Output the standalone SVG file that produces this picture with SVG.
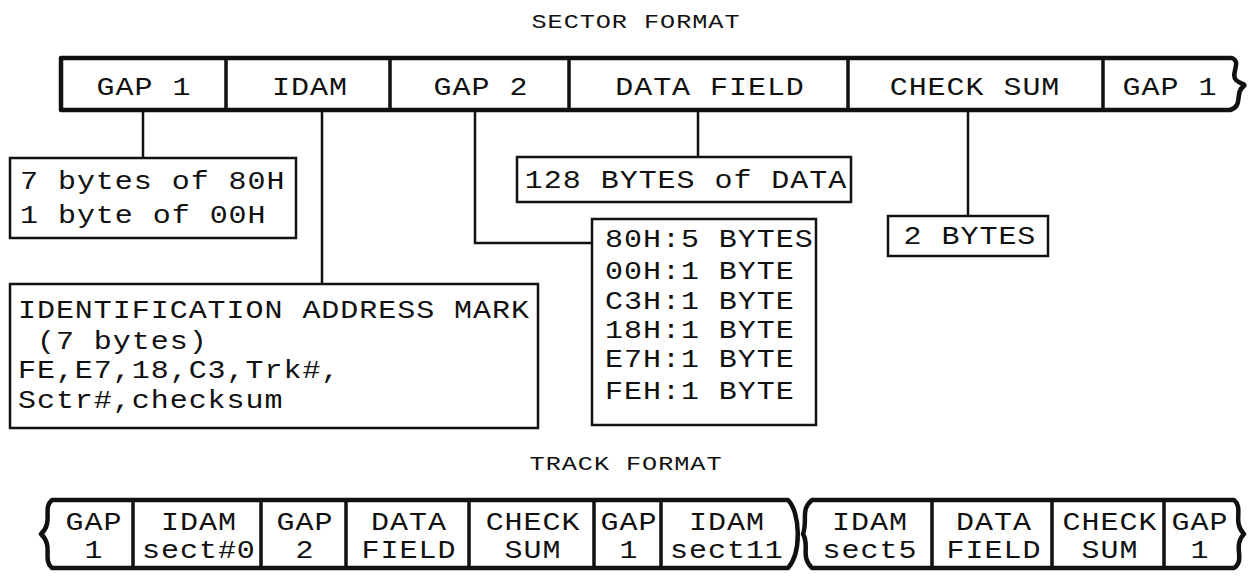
<svg xmlns="http://www.w3.org/2000/svg" width="1256" height="581" viewBox="0 0 1256 581">
<style>
text{font-family:"Liberation Mono","DejaVu Sans Mono",monospace;fill:#111}
.t{font-size:25px;letter-spacing:0.8px}
.h{font-size:21px;letter-spacing:0.8px}
.m{text-anchor:middle}
.box{fill:#fff;stroke:#111;stroke-width:2.5}
.out{fill:none;stroke:#111;stroke-width:4.5;stroke-linejoin:round}
.div{stroke:#111;stroke-width:3.5}
.con{fill:none;stroke:#111;stroke-width:2.5}
</style>
<rect width="1256" height="581" fill="#fff"/>
<text class="h m" transform="scale(1.2,1)" x="530" y="28">SECTOR FORMAT</text>
<text class="h m" transform="scale(1.2,1)" x="521.7" y="470">TRACK FORMAT</text>

<g id="connectors">
<path class="con" d="M143,110 V158"/>
<path class="con" d="M322,110 V284"/>
<path class="con" d="M475,110 V243 H592"/>
<path class="con" d="M698,110 V157"/>
<path class="con" d="M968,110 V216"/>
</g>

<g id="sector-bar">
<path class="out" d="M61,58 H1232 C1242,62 1230,74 1236,80 C1240,84 1246,84 1244,86 C1234,92 1244,106 1230,110 H61 Z"/>
<line class="div" x1="226" y1="58" x2="226" y2="110"/>
<line class="div" x1="390" y1="58" x2="390" y2="110"/>
<line class="div" x1="569" y1="58" x2="569" y2="110"/>
<line class="div" x1="848" y1="58" x2="848" y2="110"/>
<line class="div" x1="1103" y1="58" x2="1103" y2="110"/>
<g transform="scale(1.2,1)">
<text class="t m" x="120" y="95">GAP 1</text>
<text class="t m" x="258.3" y="95">IDAM</text>
<text class="t m" x="400.8" y="95">GAP 2</text>
<text class="t m" x="591.7" y="95">DATA FIELD</text>
<text class="t m" x="812.5" y="95">CHECK SUM</text>
<text class="t m" x="975" y="95">GAP 1</text>
</g>
</g>

<g id="gap1-detail">
<rect class="box" x="10" y="158" width="286" height="80"/>
<g transform="scale(1.2,1)">
<text class="t" x="16.7" y="189">7 bytes of 80H</text>
<text class="t" x="16.7" y="223">1 byte of 00H</text>
</g>
</g>

<g id="idam-detail">
<rect class="box" x="10" y="284" width="528" height="144"/>
<g transform="scale(1.2,1)">
<text class="t" x="15" y="318">IDENTIFICATION ADDRESS MARK</text>
<text class="t" x="15" y="349" xml:space="preserve"> (7 bytes)</text>
<text class="t" x="15" y="378">FE,E7,18,C3,Trk#,</text>
<text class="t" x="15" y="408">Sctr#,checksum</text>
</g>
</g>

<g id="gap2-detail">
<rect class="box" x="592" y="219" width="224" height="206"/>
<g transform="scale(1.2,1)">
<text class="t" x="504.2" y="247">80H:5 BYTES</text>
<text class="t" x="504.2" y="279">00H:1 BYTE</text>
<text class="t" x="504.2" y="309">C3H:1 BYTE</text>
<text class="t" x="504.2" y="338">18H:1 BYTE</text>
<text class="t" x="504.2" y="367">E7H:1 BYTE</text>
<text class="t" x="504.2" y="399">FEH:1 BYTE</text>
</g>
</g>

<g id="data-detail">
<rect class="box" x="517" y="157" width="334" height="45"/>
<text class="t m" transform="scale(1.2,1)" x="571.7" y="188">128 BYTES of DATA</text>
</g>

<g id="checksum-detail">
<rect class="box" x="888" y="216" width="160" height="40"/>
<text class="t m" transform="scale(1.2,1)" x="808.3" y="244">2 BYTES</text>
</g>

<g id="track-1">
<path class="out" d="M52,500 H788 C800,512 802,552 788,568 H52 C42,560 54,546 41,534 C54,522 42,508 52,500 Z"/>
<line class="div" x1="133" y1="500" x2="133" y2="568"/>
<line class="div" x1="261" y1="500" x2="261" y2="568"/>
<line class="div" x1="346" y1="500" x2="346" y2="568"/>
<line class="div" x1="469" y1="500" x2="469" y2="568"/>
<line class="div" x1="594" y1="500" x2="594" y2="568"/>
<line class="div" x1="661" y1="500" x2="661" y2="568"/>
<g transform="scale(1.2,1)">
<text class="t m" x="78.3" y="530">GAP</text><text class="t m" x="78.3" y="558">1</text>
<text class="t m" x="165.8" y="530">IDAM</text><text class="t m" x="165.8" y="558">sect#0</text>
<text class="t m" x="254.2" y="530">GAP</text><text class="t m" x="254.2" y="558">2</text>
<text class="t m" x="340.8" y="530">DATA</text><text class="t m" x="340.8" y="558">FIELD</text>
<text class="t m" x="444.2" y="530">CHECK</text><text class="t m" x="444.2" y="558">SUM</text>
<text class="t m" x="524.2" y="530">GAP</text><text class="t m" x="524.2" y="558">1</text>
<text class="t m" x="605.8" y="530">IDAM</text><text class="t m" x="605.8" y="558">sect11</text>
</g>
</g>

<g id="track-2">
<path class="out" d="M812,500 H1234 C1244,508 1232,522 1244,534 C1232,546 1246,560 1234,568 H812 C800,556 810,546 803,534 C808,520 800,510 812,500 Z"/>
<line class="div" x1="932" y1="500" x2="932" y2="568"/>
<line class="div" x1="1052" y1="500" x2="1052" y2="568"/>
<line class="div" x1="1164" y1="500" x2="1164" y2="568"/>
<g transform="scale(1.2,1)">
<text class="t m" x="725" y="530">IDAM</text><text class="t m" x="725" y="558">sect5</text>
<text class="t m" x="828.3" y="530">DATA</text><text class="t m" x="828.3" y="558">FIELD</text>
<text class="t m" x="925" y="530">CHECK</text><text class="t m" x="925" y="558">SUM</text>
<text class="t m" x="1000" y="530">GAP</text><text class="t m" x="1000" y="558">1</text>
</g>
</g>
</svg>
